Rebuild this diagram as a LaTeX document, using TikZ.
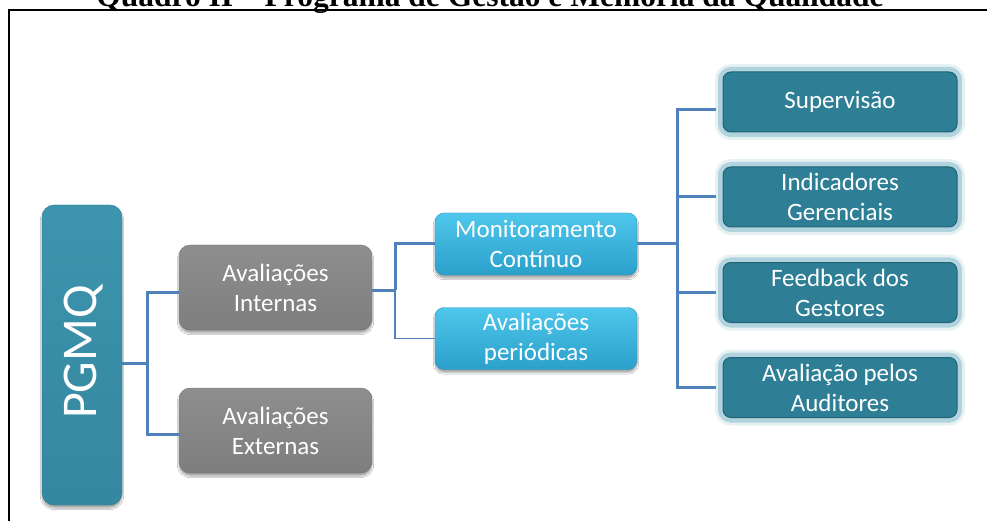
\documentclass[tikz,border=0pt]{standalone}
\usepackage{fontspec}
\newfontfamily\cfont{Carlito}
\newfontfamily\tfont{Liberation Serif}
\usetikzlibrary{shadows.blur}
\definecolor{conncol}{HTML}{4F81BD}
\definecolor{glowcol}{HTML}{86BCCC}
\begin{document}
\begin{tikzpicture}[x=1pt,y=-1pt,
  basebox/.style={rounded corners=11pt, text=white, align=center, inner sep=0pt,
    font=\cfont\fontsize{25}{30}\selectfont},
  graybox/.style={basebox, top color=graytop, bottom color=graybot, draw=grayline,
    minimum width=193pt, minimum height=85pt,
    blur shadow={shadow xshift=0pt, shadow yshift=-3pt, shadow blur steps=6, shadow opacity=35}},
  cyanbox/.style={basebox, rounded corners=9pt, top color=cyantop, bottom color=cyanbot, draw=cyanline,
    minimum width=202pt, minimum height=62pt,
    blur shadow={shadow xshift=0pt, shadow yshift=-3pt, shadow blur steps=6, shadow opacity=35}},
  tealbox/.style={basebox, rounded corners=8pt, fill=tealfill, draw=tealline, line width=1pt,
    minimum width=234pt, minimum height=60pt,
    preaction={draw=glowcol, line width=16pt, draw opacity=0.2},
    preaction={draw=glowcol, line width=10pt, draw opacity=0.55}},
  conn/.style={draw=conncol, line width=3pt},
  thinconn/.style={draw=conncol, line width=1.5pt}
]
\definecolor{graytop}{HTML}{8E8E8E}
\definecolor{graybot}{HTML}{7E7E7E}
\definecolor{grayline}{HTML}{767676}
\definecolor{cyantop}{HTML}{4FC6EB}
\definecolor{cyanbot}{HTML}{2AA0CB}
\definecolor{cyanline}{HTML}{2B99C0}
\definecolor{tealfill}{HTML}{2E7F96}
\definecolor{tealline}{HTML}{1F6375}
\definecolor{pgtop}{HTML}{3D94AE}
\definecolor{pgbot}{HTML}{34889F}
\useasboundingbox (0,0) rectangle (987,521);
\clip (0,0) rectangle (987,521);
\fill[white] (0,0) rectangle (987,521);
% title (cut off at the top, as in the reference)
\node[font=\tfont\bfseries\fontsize{31.5}{36}\selectfont, anchor=base, inner sep=0pt] (title) at (490,7)
  {Quadro II – Programa de Gestão e Memória da Qualidade};
% frame
\draw[line width=2pt] (9,540) -- (9,10) -- (1000,10);
% nodes
\node[basebox, rounded corners=12pt, top color=pgtop, bottom color=pgbot, draw=pgbot!90!black,
  minimum width=80pt, minimum height=300pt,
  blur shadow={shadow xshift=0pt, shadow yshift=-3pt, shadow blur steps=6, shadow opacity=35}]
  (pgmq) at (82,355) {};
\node[font=\cfont\fontsize{50}{50}\selectfont, text=white, rotate=90, inner sep=0pt] (pgmqtext) at (84,352) {PGMQ};
\node[graybox] (ai) at (275.5,287.5) {Avaliações\\Internas};
\node[graybox] (ae) at (275.5,430.5) {Avaliações\\Externas};
\node[cyanbox] (mc) at (536,244) {Monitoramento\\Contínuo};
\node[cyanbox] (ap) at (536,338.5) {Avaliações\\periódicas};
\node[tealbox] (sup) at (840,102) {Supervisão};
\node[tealbox] (ind) at (840,197) {Indicadores\\Gerenciais};
\node[tealbox] (fb) at (840,292.5) {Feedback dos\\Gestores};
\node[tealbox] (aud) at (840,387.5) {Avaliação pelos\\Auditores};
% junctions
\coordinate (j1) at (147,363);
\coordinate (j2) at (395,290);
\coordinate (j3) at (677,244);
% connectors
\draw[conn] ([yshift=-8pt]pgmq.east) -- (j1);
\draw[conn] ([yshift=-5pt]ai.west) -| (j1);
\draw[conn] ([yshift=-4pt]ae.west) -| (j1);
\draw[conn] ([yshift=-2.5pt]ai.east) -- (j2);
\draw[conn] (mc.west) -| (j2);
\draw[thinconn] (ap.west) -| (j2);
\draw[conn] (mc.east) -- (j3);
\draw[conn] ([xshift=-7pt,yshift=-8pt]sup.west) -| (j3);
\draw[conn] ([xshift=-7pt]ind.west) -| (j3);
\draw[conn] ([xshift=-7pt]fb.west) -| (j3);
\draw[conn] ([xshift=-7pt]aud.west) -| (j3);
\end{tikzpicture}
\end{document}
